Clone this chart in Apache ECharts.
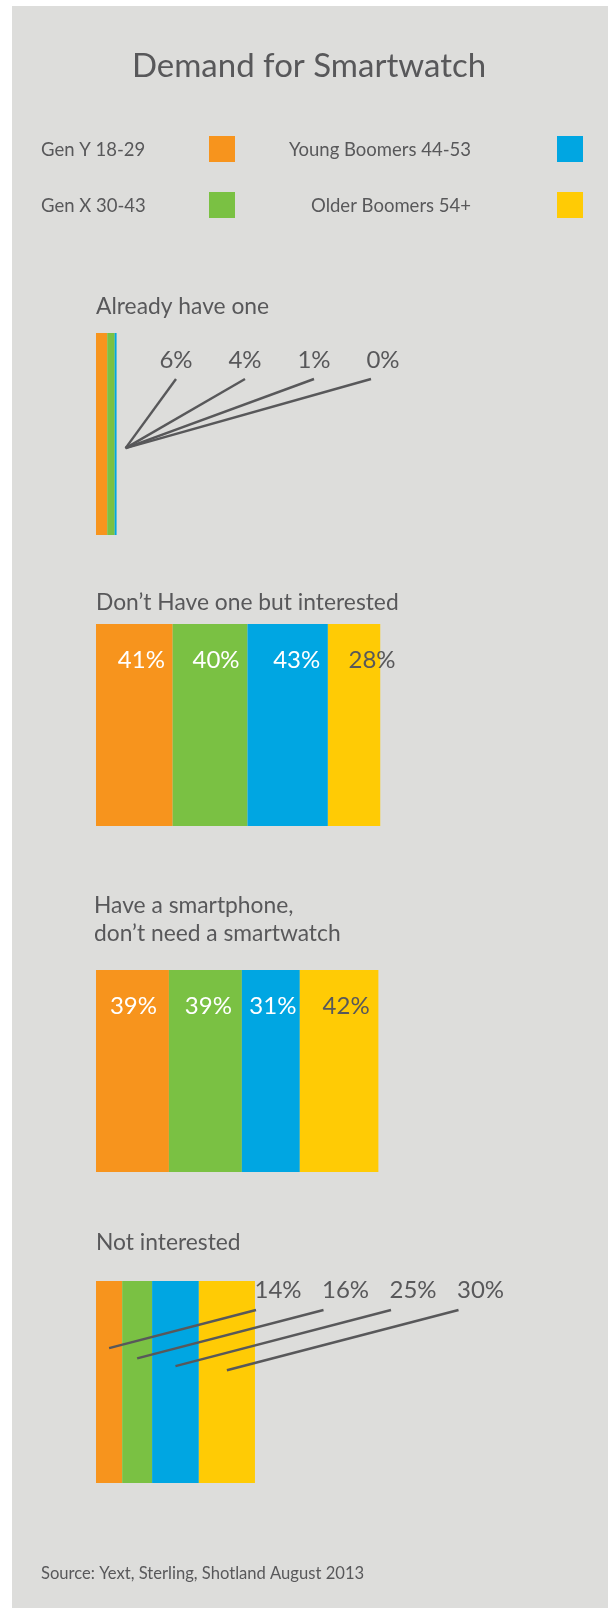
<!DOCTYPE html>
<html>
<head>
<meta charset="utf-8">
<title>Demand for Smartwatch</title>
<script src="https://cdn.jsdelivr.net/npm/echarts@6/dist/echarts.min.js"></script>
<style>
    html, body { margin: 0; padding: 0; background: #fff; }
    #chart { width: 608px; height: 1608px; }
</style>
</head>
<body>
<div id="chart"></div>
<script>
// 数据
var groups = ['Gen Y 18-29', 'Gen X 30-43', 'Young Boomers 44-53', 'Older Boomers 54+'];
var questions = ['Already have one', 'Don’t Have one but interested', 'Have a smartphone,\ndon’t need a smartwatch', 'Not interested'];
var alreadyHave = [6, 4, 1, 0];
var interested = [41, 40, 43, 28];
var noNeed = [39, 39, 31, 42];
var notInterested = [14, 16, 25, 30];
var sectionValues = [alreadyHave, interested, noNeed, notInterested];

// 样式
var colors = ['#f7941d', '#7ac143', '#00a6e2', '#ffcb05'];
var textColor = '#58585a';
var font = 'Lato';

// 布局
var barLeft = 96;
var pxPerPct = 1.87;         // 1% 对应的像素宽度
var axisMax = 170;           // 堆叠总和可超过 100%
var barTops = [333, 624, 970, 1281];
var barHeight = 202;
var headY = [307, 603, 920, 1243];
var headX = [96, 96, 94, 96];
// 柱内标签的水平偏移
var insideShift = {1: [7, 6, 9, 18], 2: [1, 3, 2, 7]};
// 引线标签
var callouts = {
    0: {mode: 'fan', x0: 176, step: 69, y: 360},
    3: {mode: 'parallel', x0: 278, step: 67.5, y: 1290}
};

(function() {
    var myChart = echarts.init(document.getElementById('chart'));

    var grids = [], xAxes = [], yAxes = [], series = [];

    sectionValues.forEach(function(vals, k) {
        grids.push({left: barLeft, top: barTops[k], width: pxPerPct * axisMax, height: barHeight});
        xAxes.push({type: 'value', gridIndex: k, min: 0, max: axisMax, show: false});
        yAxes.push({type: 'category', gridIndex: k, data: [questions[k]], show: false});

        vals.forEach(function(v, i) {
            var s = {
                type: 'bar',
                name: groups[i],
                stack: 'q' + k,
                xAxisIndex: k,
                yAxisIndex: k,
                barWidth: '100%',
                silent: true,
                itemStyle: {color: colors[i]},
                data: [v]
            };
            if (insideShift[k]) {
                s.label = {
                    show: true,
                    position: 'insideTop',
                    offset: [insideShift[k][i], 19],
                    formatter: '{c}%',
                    fontFamily: font,
                    fontSize: 24,
                    color: i === 3 ? textColor : '#ffffff'
                };
            }
            series.push(s);
        });

        // 引线 + 数值
        var cfg = callouts[k];
        if (cfg) {
            var data = [], acc = 0;
            vals.forEach(function(v, i) {
                data.push([acc, v, i, 0]);
                acc += v;
            });
            var total = acc;
            series.push({
                type: 'custom',
                name: 'callout' + k,
                xAxisIndex: k,
                yAxisIndex: k,
                z: 5,
                silent: true,
                encode: {x: [0, 1], y: 3},
                data: data,
                renderItem: function(params, api) {
                    var start = api.value(0), v = api.value(1), i = api.value(2);
                    var lx = cfg.x0 + i * cfg.step;
                    var ly = cfg.y;
                    var mid = api.coord([start + v / 2, 0]);
                    var h = api.size([0, 1])[1];
                    var p1, p2;
                    if (cfg.mode === 'fan') {
                        var end = api.coord([total, 0]);
                        p1 = [lx - (i === 3 ? 12 : 0), ly + 19];
                        p2 = [end[0] + 9, mid[1] + h * 0.07];
                    } else {
                        p1 = [lx - 22, ly + 20];
                        p2 = [mid[0], p1[1] + (p1[0] - mid[0]) * 0.26];
                    }
                    return {
                        type: 'group',
                        children: [{
                            type: 'line',
                            shape: {x1: p1[0], y1: p1[1], x2: p2[0], y2: p2[1]},
                            style: {stroke: textColor, lineWidth: 2.4}
                        }, {
                            type: 'text',
                            style: {
                                text: v + '%',
                                x: lx,
                                y: ly,
                                align: 'center',
                                verticalAlign: 'middle',
                                fill: textColor,
                                fontFamily: font,
                                fontSize: 24
                            }
                        }]
                    };
                }
            });
        }
    });

    var graphics = [{
        type: 'rect',
        z: 0,
        shape: {x: 12, y: 6, width: 596, height: 1602},
        style: {fill: '#dddddb'}
    }, {
        type: 'text',
        z: 1,
        style: {
            text: 'Demand for Smartwatch', x: 309, y: 66,
            align: 'center', verticalAlign: 'middle',
            fill: textColor, fontFamily: font, fontSize: 33
        }
    }, {
        type: 'text',
        z: 1,
        style: {
            text: 'Source: Yext, Sterling, Shotland August 2013', x: 41, y: 1574,
            verticalAlign: 'middle',
            fill: textColor, fontFamily: font, fontSize: 16.6
        }
    }];
    questions.forEach(function(q, k) {
        graphics.push({
            type: 'text',
            z: 1,
            style: {
                text: q, x: headX[k], y: headY[k],
                verticalAlign: 'middle', lineHeight: 28,
                fill: textColor, fontFamily: font, fontSize: 22.8
            }
        });
    });

    var option = {
        backgroundColor: '#ffffff',
        animation: false,
        textStyle: {fontFamily: font},
        graphic: graphics,
        legend: [{
            left: 41,
            top: 136,
            padding: 0,
            orient: 'vertical',
            align: 'right',
            icon: 'rect',
            itemWidth: 26,
            itemHeight: 26,
            itemGap: 30,
            selectedMode: false,
            data: [groups[0], groups[1]],
            formatter: '{a|{name}}',
            textStyle: {
                color: textColor,
                fontSize: 18.5,
                rich: {a: {width: 163, align: 'left', fontSize: 18.5, color: textColor, padding: [3, 0, 0, 0]}}
            }
        }, {
            left: 289,
            top: 136,
            padding: 0,
            orient: 'vertical',
            align: 'right',
            icon: 'rect',
            itemWidth: 26,
            itemHeight: 26,
            itemGap: 30,
            selectedMode: false,
            data: [groups[2], groups[3]],
            formatter: '{b|{name}}{s| }',
            textStyle: {
                color: textColor,
                fontSize: 18.5,
                rich: {
                    b: {width: 184, align: 'right', fontSize: 18.5, color: textColor, padding: [3, 0, 0, 0]},
                    s: {width: 81, fontSize: 18.5}
                }
            }
        }],
        grid: grids,
        xAxis: xAxes,
        yAxis: yAxes,
        series: series
    };

    myChart.setOption(option);
})();
</script>
</body>
</html>
